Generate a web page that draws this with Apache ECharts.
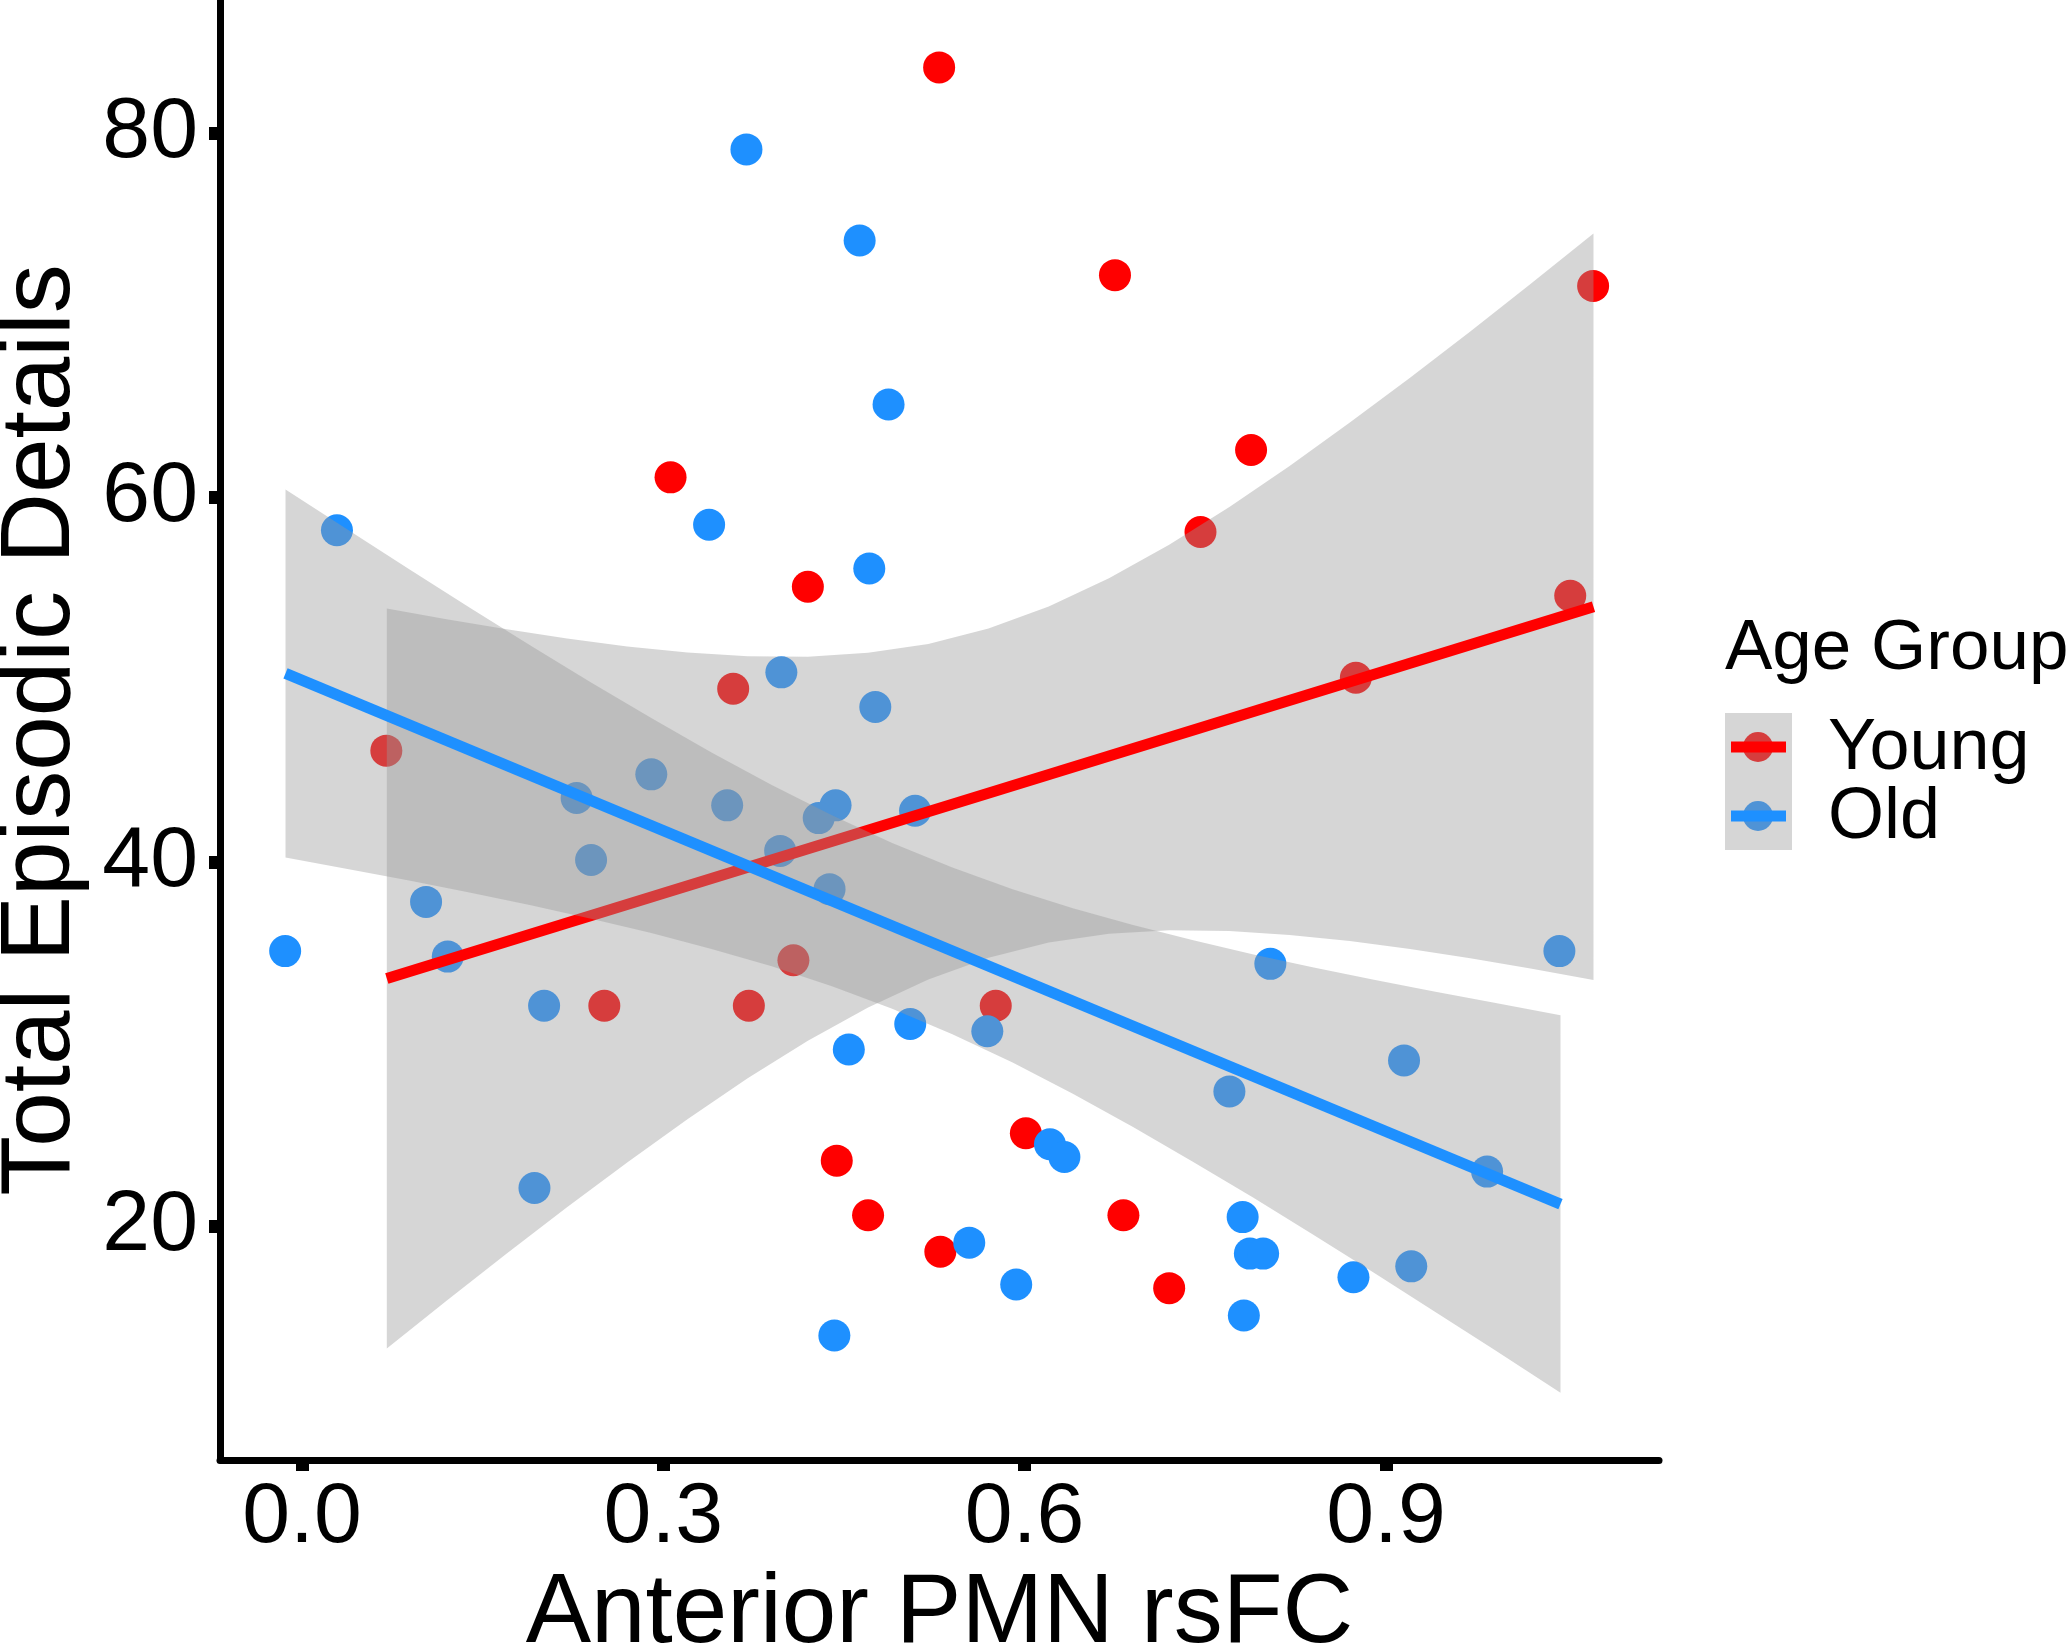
<!DOCTYPE html>
<html>
<head>
<meta charset="utf-8">
<script src="https://cdn.jsdelivr.net/npm/echarts@6/dist/echarts.min.js"></script>
<style>
  html, body { margin: 0; padding: 0; background: #ffffff; }
  #chart { width: 2070px; height: 1649px; }
</style>
</head>
<body>
<div id="chart"></div>
<script>
// ---------- data ----------
const xTicks = [0.0, 0.3, 0.6, 0.9];
const yTicks = [20, 40, 60, 80];
const groups = ['Young', 'Old'];
const xTitle = 'Anterior PMN rsFC';
const yTitle = 'Total Episodic Details';
const legendTitle = 'Age Group';

const youngX = [0.529, 0.675, 1.072, 0.788, 0.306, 0.746, 0.420, 1.053, 0.358, 0.875, 0.070,
                0.408, 0.251, 0.371, 0.576, 0.601, 0.444, 0.470, 0.682, 0.530, 0.720];
const youngY = [83.6, 72.2, 71.6, 62.6, 61.1, 58.1, 55.1, 54.6, 49.5, 50.1, 46.1,
                34.6, 32.1, 32.1, 32.1, 25.1, 23.6, 20.6, 20.6, 18.6, 16.6];

const oldX = [0.369, 0.463, 0.487, 0.029, 0.338, 0.471, 0.398, 0.476, 0.290, 0.228, 0.353,
              0.443, 0.429, 0.509, 0.397, 0.240, 0.438, 0.103, -0.014, 0.121, 1.044, 0.804,
              0.201, 0.505, 0.569, 0.454, 0.915, 0.770, 0.621, 0.633, 0.984, 0.193, 0.781,
              0.554, 0.787, 0.798, 0.921, 0.593, 0.873, 0.782, 0.442];
const oldY = [79.1, 74.1, 65.1, 58.2, 58.5, 56.1, 50.4, 48.5, 44.8, 43.5, 43.1,
              43.1, 42.4, 42.8, 40.6, 40.1, 38.5, 37.8, 35.1, 34.8, 35.1, 34.4,
              32.1, 31.1, 30.7, 29.7, 29.1, 27.4, 24.5, 23.8, 23.0, 22.1, 20.5,
              19.1, 18.5, 18.5, 17.8, 16.8, 17.2, 15.1, 14.0];

// fitted lines (end points)
const youngFitX = [0.0704, 1.0723];
const youngFitY = [33.6, 54.0];
const oldFitX = [-0.0137, 1.0449];
const oldFitY = [50.34, 21.21];

// confidence bands (boundaries)
const youngBandX  = [0.0704, 0.12, 0.17, 0.22, 0.27, 0.32, 0.37, 0.42, 0.47, 0.52, 0.57,
                     0.62, 0.67, 0.72, 0.77, 0.82, 0.87, 0.92, 0.97, 1.02, 1.0723];
const youngBandLo = [13.29, 15.91, 18.50, 21.04, 23.50, 25.87, 28.12, 30.18, 32.01, 33.54, 34.74,
                     35.57, 36.05, 36.24, 36.20, 35.99, 35.65, 35.21, 34.71, 34.15, 33.52];
const youngBandHi = [53.91, 53.31, 52.76, 52.26, 51.82, 51.49, 51.28, 51.26, 51.47, 51.96, 52.80,
                     54.01, 55.57, 57.40, 59.48, 61.73, 64.11, 66.57, 69.11, 71.71, 74.48];

const oldBandX  = [-0.0137, 0.04, 0.09, 0.14, 0.19, 0.24, 0.29, 0.34, 0.39, 0.44, 0.49,
                   0.54, 0.59, 0.64, 0.69, 0.74, 0.79, 0.84, 0.89, 0.94, 0.99, 1.0449];
const oldBandLo = [40.24, 39.58, 38.96, 38.30, 37.62, 36.88, 36.09, 35.22, 34.27, 33.17, 31.94,
                   30.53, 28.98, 27.27, 25.45, 23.53, 21.56, 19.52, 17.45, 15.34, 13.22, 10.86];
const oldBandHi = [60.44, 58.14, 56.02, 53.92, 51.86, 49.84, 47.89, 46.00, 44.21, 42.55, 41.04,
                   39.69, 38.50, 37.45, 36.53, 35.69, 34.92, 34.20, 33.53, 32.88, 32.26, 31.58];

// ---------- styling ----------
const FONT = "'Liberation Sans', Arial, sans-serif";
const RED = '#FF0000';
const BLUE = '#1E90FF';
const RED_MUTED = '#D63D3D';
const BLUE_MUTED = '#4F93D6';
const BAND = 'rgba(153,153,153,0.4)';

function zip(a, b) { return a.map((v, i) => [v, b[i]]); }

function bandSeries(name, bx, lo, hi, z) {
  return {
    type: 'custom',
    name: name,
    z: z,
    silent: true,
    data: [[bx[0], lo[0]]],
    renderItem: function (params, api) {
      const pts = [];
      for (let i = 0; i < bx.length; i++) pts.push(api.coord([bx[i], hi[i]]));
      for (let i = bx.length - 1; i >= 0; i--) pts.push(api.coord([bx[i], lo[i]]));
      return { type: 'polygon', shape: { points: pts }, style: { fill: BAND } };
    }
  };
}

const chart = echarts.init(document.getElementById('chart'), null, { renderer: 'canvas' });

const legendItems = [];
const keyColors = [[RED, RED_MUTED], [BLUE, BLUE_MUTED]];
legendItems.push({ type: 'rect', left: 1725, top: 713, shape: { width: 67, height: 137 }, style: { fill: '#D6D6D6' }, z: 10 });
groups.forEach(function (g, i) {
  const cy = 747 + i * 69;
  legendItems.push({ type: 'circle', shape: { cx: 1758, cy: cy, r: 15 }, style: { fill: keyColors[i][1] }, z: 11 });
  legendItems.push({ type: 'line', shape: { x1: 1731, y1: cy, x2: 1786, y2: cy }, style: { stroke: keyColors[i][0], lineWidth: 11 }, z: 12 });
  legendItems.push({ type: 'text', x: 1828, y: cy + 2, style: { text: g, font: '72px ' + FONT, fill: '#000', textVerticalAlign: 'middle', textAlign: 'left' }, z: 12 });
});
legendItems.push({ type: 'text', x: 1725, y: 649, style: { text: legendTitle, font: '71px ' + FONT, fill: '#000', textVerticalAlign: 'middle', textAlign: 'left' }, z: 12 });

const option = {
  animation: false,
  backgroundColor: '#ffffff',
  textStyle: { fontFamily: FONT },
  grid: { left: 220, right: 411, top: 0, bottom: 189, containLabel: false, outerBoundsMode: 'none' },
  xAxis: {
    type: 'value',
    min: -0.0681,
    max: 1.1267,
    name: xTitle,
    nameLocation: 'middle',
    nameGap: 98,
    nameTextStyle: { fontSize: 98, color: '#000', fontFamily: FONT },
    axisLine: { show: true, onZero: false, lineStyle: { color: '#000', width: 7 } },
    axisTick: { show: true, length: 11, customValues: xTicks, lineStyle: { color: '#000', width: 13 } },
    axisLabel: { show: true, customValues: xTicks, margin: 15, fontSize: 86, color: '#000', fontFamily: FONT,
                 formatter: function (v) { return Number(v).toFixed(1); } },
    splitLine: { show: false }
  },
  yAxis: {
    type: 'value',
    min: 7.17,
    max: 87.3,
    name: yTitle,
    nameLocation: 'middle',
    nameGap: 125,
    nameTextStyle: { fontSize: 98, color: '#000', fontFamily: FONT },
    axisLine: { show: true, onZero: false, lineStyle: { color: '#000', width: 7 } },
    axisTick: { show: true, length: 11, customValues: yTicks, lineStyle: { color: '#000', width: 13 } },
    axisLabel: { show: true, customValues: yTicks, margin: 22, fontSize: 86, color: '#000', fontFamily: FONT,
                 formatter: function (v) { return String(Math.round(v)); } },
    splitLine: { show: false }
  },
  graphic: legendItems,
  series: [
    { type: 'scatter', name: groups[0], z: 1, silent: true, symbol: 'circle', symbolSize: 32,
      itemStyle: { color: RED, opacity: 1 }, data: zip(youngX, youngY) },
    { type: 'scatter', name: groups[1], z: 1, silent: true, symbol: 'circle', symbolSize: 32,
      itemStyle: { color: BLUE, opacity: 1 }, data: zip(oldX, oldY) },
    bandSeries('youngBand', youngBandX, youngBandLo, youngBandHi, 2),
    { type: 'line', name: 'youngFit', z: 3, silent: true, symbol: 'none',
      lineStyle: { color: RED, width: 11 }, data: zip(youngFitX, youngFitY) },
    bandSeries('oldBand', oldBandX, oldBandLo, oldBandHi, 4),
    { type: 'line', name: 'oldFit', z: 5, silent: true, symbol: 'none',
      lineStyle: { color: BLUE, width: 11 }, data: zip(oldFitX, oldFitY) }
  ]
};

chart.setOption(option);
</script>
</body>
</html>
